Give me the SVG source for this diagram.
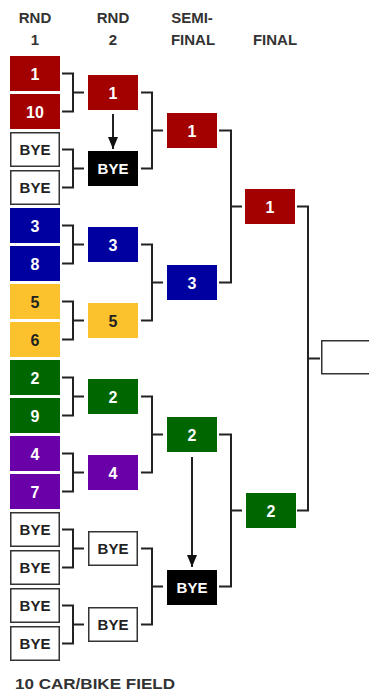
<svg xmlns="http://www.w3.org/2000/svg" width="369" height="698" viewBox="0 0 369 698">
<defs>
<style>
.hdr{font-family:"Liberation Sans",Arial,sans-serif;font-weight:bold;font-size:15px;fill:#333;text-anchor:middle}
.num{font-family:"Liberation Sans",Arial,sans-serif;font-weight:bold;font-size:16px;text-anchor:middle}
.bye{font-family:"Liberation Sans",Arial,sans-serif;font-weight:bold;font-size:15px;text-anchor:middle}
.red{fill:#a30000}
.blue{fill:#0000a0}
.yel{fill:#fcc22e}
.grn{fill:#006600}
.pur{fill:#6a00a8}
.blk{fill:#000}
.wht{fill:#fff;stroke:#333;stroke-width:1.5}
.tw{fill:#fff}
.tb{fill:#222}
.conn{fill:none;stroke:#222;stroke-width:2}
</style>
<marker id="ah" markerUnits="userSpaceOnUse" markerWidth="14" markerHeight="10" refX="12" refY="5" orient="auto">
<path d="M0,0 L12,5 L0,10 Z" fill="#111"/>
</marker>
</defs>
<rect width="369" height="698" fill="#fff"/>
<g id="headers">
<text class="hdr" x="35" y="23">RND</text><text class="hdr" x="35" y="45">1</text>
<text class="hdr" x="113" y="23">RND</text><text class="hdr" x="113" y="45">2</text>
<text class="hdr" x="192" y="23">SEMI-</text><text class="hdr" x="193" y="45">FINAL</text>
<text class="hdr" x="275" y="45">FINAL</text>
</g>
<g id="connectors">
<path class="conn" d="M62 73.5H73V111.5H62M73 92.5H84"/>
<path class="conn" d="M62 149.5H73V187.5H62M73 168.5H84"/>
<path class="conn" d="M62 225.5H73V263.5H62M73 244.5H84"/>
<path class="conn" d="M62 301.5H73V339.5H62M73 320.5H84"/>
<path class="conn" d="M62 377.5H73V415.5H62M73 396.5H84"/>
<path class="conn" d="M62 453.5H73V491.5H62M73 472.5H84"/>
<path class="conn" d="M62 529.5H73V567.5H62M73 548.5H84"/>
<path class="conn" d="M62 605.5H73V643.5H62M73 624.5H84"/>
<path class="conn" d="M141 92.5H152V168.5H141M152 130.5H163"/>
<path class="conn" d="M141 244.5H152V320.5H141M152 282.5H163"/>
<path class="conn" d="M141 396.5H152V472.5H141M152 434.5H163"/>
<path class="conn" d="M141 548.5H152V624.5H141M152 586.5H163"/>
<path class="conn" d="M219 130.5H231V282.5H219M231 206.5H242"/>
<path class="conn" d="M219 434.5H231V586.5H219M231 510.5H242"/>
<path class="conn" d="M297 206.5H308V510.5H297M308 358.5H320"/>
<path class="conn" d="M113 114V149" marker-end="url(#ah)"/>
<path class="conn" d="M192 457V567" marker-end="url(#ah)"/>
</g>
<g id="r1-1"><rect class="red" x="10" y="56" width="50" height="35"/><text class="num tw" x="35" y="79.5">1</text></g>
<g id="r1-10"><rect class="red" x="10" y="94" width="50" height="35"/><text class="num tw" x="35" y="117.5">10</text></g>
<g id="r1-bye1"><rect class="wht" x="10.75" y="132.75" width="48.5" height="33.5"/><text class="bye tb" x="35" y="154.8">BYE</text></g>
<g id="r1-bye2"><rect class="wht" x="10.75" y="170.75" width="48.5" height="33.5"/><text class="bye tb" x="35" y="192.8">BYE</text></g>
<g id="r1-3"><rect class="blue" x="10" y="208" width="50" height="35"/><text class="num tw" x="35" y="231.5">3</text></g>
<g id="r1-8"><rect class="blue" x="10" y="246" width="50" height="35"/><text class="num tw" x="35" y="269.5">8</text></g>
<g id="r1-5"><rect class="yel" x="10" y="284" width="50" height="35"/><text class="num tb" x="35" y="307.5">5</text></g>
<g id="r1-6"><rect class="yel" x="10" y="322" width="50" height="35"/><text class="num tb" x="35" y="345.5">6</text></g>
<g id="r1-2"><rect class="grn" x="10" y="360" width="50" height="35"/><text class="num tw" x="35" y="383.5">2</text></g>
<g id="r1-9"><rect class="grn" x="10" y="398" width="50" height="35"/><text class="num tw" x="35" y="421.5">9</text></g>
<g id="r1-4"><rect class="pur" x="10" y="436" width="50" height="35"/><text class="num tw" x="35" y="459.5">4</text></g>
<g id="r1-7"><rect class="pur" x="10" y="474" width="50" height="35"/><text class="num tw" x="35" y="497.5">7</text></g>
<g id="r1-bye3"><rect class="wht" x="10.75" y="512.75" width="48.5" height="33.5"/><text class="bye tb" x="35" y="534.8">BYE</text></g>
<g id="r1-bye4"><rect class="wht" x="10.75" y="550.75" width="48.5" height="33.5"/><text class="bye tb" x="35" y="572.8">BYE</text></g>
<g id="r1-bye5"><rect class="wht" x="10.75" y="588.75" width="48.5" height="33.5"/><text class="bye tb" x="35" y="610.8">BYE</text></g>
<g id="r1-bye6"><rect class="wht" x="10.75" y="626.75" width="48.5" height="33.5"/><text class="bye tb" x="35" y="648.8">BYE</text></g>
<g id="r2-1"><rect class="red" x="88" y="75" width="50" height="35"/><text class="num tw" x="113" y="98.5">1</text></g>
<g id="r2-bye1"><rect class="blk" x="88" y="151" width="50" height="35"/><text class="bye tw" x="113" y="173.8">BYE</text></g>
<g id="r2-3"><rect class="blue" x="88" y="227" width="50" height="35"/><text class="num tw" x="113" y="250.5">3</text></g>
<g id="r2-5"><rect class="yel" x="88" y="303" width="50" height="35"/><text class="num tb" x="113" y="326.5">5</text></g>
<g id="r2-2"><rect class="grn" x="88" y="379" width="50" height="35"/><text class="num tw" x="113" y="402.5">2</text></g>
<g id="r2-4"><rect class="pur" x="88" y="455" width="50" height="35"/><text class="num tw" x="113" y="478.5">4</text></g>
<g id="r2-bye2"><rect class="wht" x="88.75" y="531.75" width="48.5" height="33.5"/><text class="bye tb" x="113" y="553.8">BYE</text></g>
<g id="r2-bye3"><rect class="wht" x="88.75" y="607.75" width="48.5" height="33.5"/><text class="bye tb" x="113" y="629.8">BYE</text></g>
<g id="sf-1"><rect class="red" x="167" y="113" width="50" height="35"/><text class="num tw" x="192" y="136.5">1</text></g>
<g id="sf-3"><rect class="blue" x="167" y="265" width="50" height="35"/><text class="num tw" x="192" y="288.5">3</text></g>
<g id="sf-2"><rect class="grn" x="167" y="417" width="50" height="35"/><text class="num tw" x="192" y="440.5">2</text></g>
<g id="sf-bye"><rect class="blk" x="167" y="570" width="50" height="35"/><text class="bye tw" x="192" y="592.8">BYE</text></g>
<g id="f-1"><rect class="red" x="245" y="189" width="50" height="35"/><text class="num tw" x="270" y="212.5">1</text></g>
<g id="f-2"><rect class="grn" x="246" y="493" width="50" height="35"/><text class="num tw" x="271" y="516.5">2</text></g>
<g id="champion"><rect class="wht" x="321.75" y="340.75" width="60" height="33"/></g>
<g id="footer"><text x="15" y="689" font-family="'Liberation Sans',Arial,sans-serif" font-weight="bold" font-size="15" fill="#333" textLength="160" lengthAdjust="spacingAndGlyphs">10 CAR/BIKE FIELD</text></g>
</svg>
